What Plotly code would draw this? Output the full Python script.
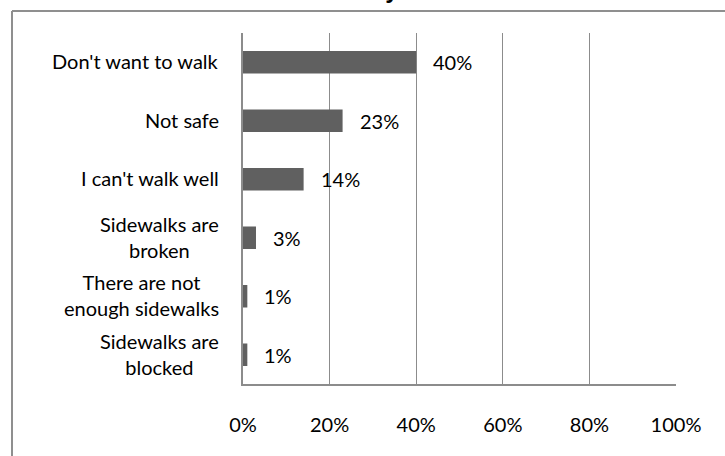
import plotly.graph_objects as go

# Survey responses: reasons for not walking
categories = [
    "Don't want to walk",
    "Not safe",
    "I can't walk well",
    "Sidewalks are<br>broken",
    "There are not<br>enough sidewalks",
    "Sidewalks are<br>blocked",
]
shares = [0.40, 0.23, 0.14, 0.03, 0.01, 0.01]
tick_values = [0, 0.2, 0.4, 0.6, 0.8, 1.0]
tick_labels = ["0%", "20%", "40%", "60%", "80%", "100%"]
chart_title = "Why"

FONT = "Lato"
TEXT_SIZE = 20
BAR_COLOR = "#606060"
GRID_COLOR = "#8c8c8c"
FRAME_COLOR = "#8f8f8f"

W, H = 725, 456
M_L, M_R, M_T, M_B = 243, 49, 33, 72

plot_w = W - M_L - M_R
plot_h = H - M_T - M_B


def px_to_paper_x(px):
    return (px - M_L) / plot_w


def px_to_paper_y(py):
    return (H - M_B - py) / plot_h


fig = go.Figure(
    go.Bar(
        x=shares,
        y=list(range(len(categories))),
        orientation="h",
        marker=dict(color=BAR_COLOR, line=dict(width=0)),
        width=0.385,
        hoverinfo="skip",
    )
)

annotations = []
# value labels to the right of each bar
for i, v in enumerate(shares):
    annotations.append(dict(
        x=v, y=i, xref="x", yref="y",
        text=f"{round(v * 100)}%",
        showarrow=False, xanchor="left", yanchor="middle",
        xshift=15,
        font=dict(family=FONT, size=TEXT_SIZE, color="#000000"),
    ))
# category labels, centred line by line, right edge beside the axis
for i, c in enumerate(categories):
    annotations.append(dict(
        x=0, y=i, xref="paper", yref="y",
        text=c, align="center",
        showarrow=False, xanchor="right", yanchor="middle",
        xshift=-22, yshift=1,
        font=dict(family=FONT, size=TEXT_SIZE, color="#000000"),
    ))
# chart title sitting above the frame (mostly above the top edge)
annotations.append(dict(
    x=px_to_paper_x(373), y=1, xref="paper", yref="paper",
    text=f"<b>{chart_title}</b>",
    showarrow=False, xanchor="center", yanchor="bottom",
    yshift=28,
    font=dict(family="Liberation Sans", size=24, color="#000000"),
))

# outer chart frame: left and top edges (right/bottom run past the page)
frame_left, frame_top = 12, 11
shapes = [
    dict(type="line", xref="paper", yref="paper",
         x0=px_to_paper_x(frame_left), x1=px_to_paper_x(W + 10),
         y0=px_to_paper_y(frame_top), y1=px_to_paper_y(frame_top),
         line=dict(color=FRAME_COLOR, width=2), layer="above"),
    dict(type="line", xref="paper", yref="paper",
         x0=px_to_paper_x(frame_left), x1=px_to_paper_x(frame_left),
         y0=px_to_paper_y(frame_top), y1=px_to_paper_y(H + 10),
         line=dict(color=FRAME_COLOR, width=2), layer="above"),
]

fig.update_layout(
    width=W, height=H,
    margin=dict(l=M_L, r=M_R, t=M_T, b=M_B, pad=0),
    paper_bgcolor="#ffffff", plot_bgcolor="#ffffff",
    showlegend=False,
    annotations=annotations,
    shapes=shapes,
    font=dict(family=FONT, size=TEXT_SIZE, color="#000000"),
)
fig.update_xaxes(
    range=[0, 1.0], tickvals=tick_values, ticktext=tick_labels,
    showgrid=True, gridcolor=GRID_COLOR, gridwidth=1,
    showline=True, linecolor=GRID_COLOR, linewidth=1.5,
    zeroline=False, ticks="", ticklabelstandoff=22,
    tickfont=dict(family=FONT, size=TEXT_SIZE, color="#000000"),
    fixedrange=True,
)
fig.update_yaxes(
    range=[len(categories) - 0.5, -0.5],
    showticklabels=False, showgrid=False, zeroline=False,
    showline=True, linecolor=GRID_COLOR, linewidth=1.5, ticks="",
    fixedrange=True,
)

fig.write_html("out.html", config={"displayModeBar": False})
